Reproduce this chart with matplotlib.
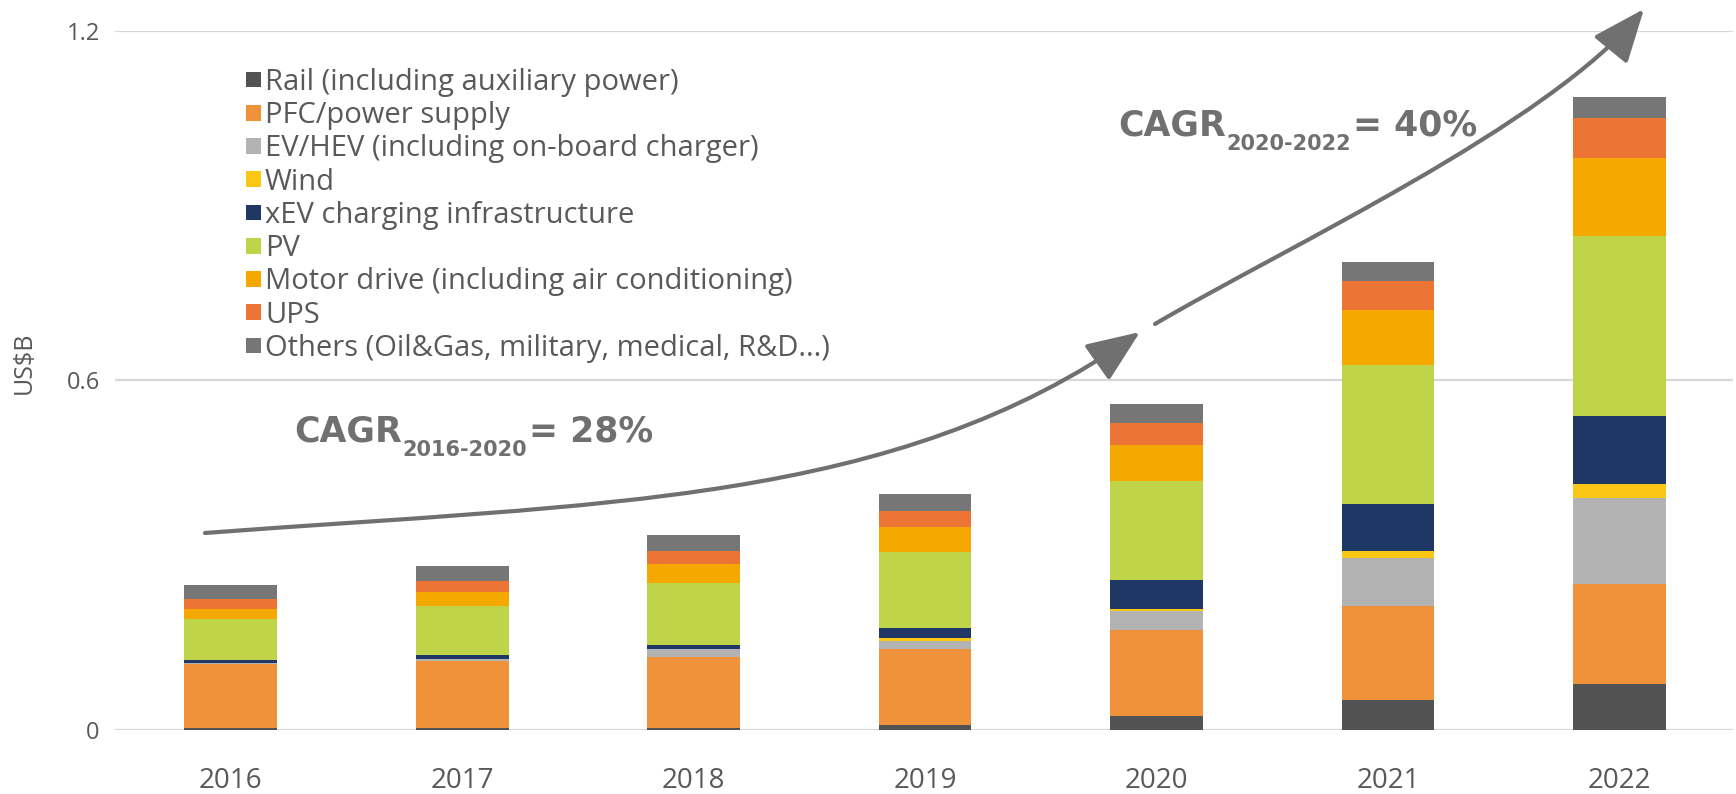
import matplotlib.pyplot as plt
from matplotlib.patches import FancyArrowPatch, Patch
from matplotlib.path import Path
from matplotlib.transforms import Affine2D
import numpy as np

plt.rcParams['font.family'] = ['Open Sans', 'DejaVu Sans']

years = ['2016', '2017', '2018', '2019', '2020', '2021', '2022']

# market size per application, US$B
rail   = [0.003, 0.003, 0.003, 0.008, 0.023, 0.050, 0.078]
pfc    = [0.110, 0.115, 0.122, 0.131, 0.148, 0.163, 0.172]
ev_hev = [0.001, 0.003, 0.013, 0.014, 0.032, 0.082, 0.148]
wind   = [0.001, 0.001, 0.001, 0.004, 0.005, 0.011, 0.024]
xev    = [0.005, 0.006, 0.006, 0.017, 0.049, 0.082, 0.117]
pv     = [0.070, 0.085, 0.107, 0.131, 0.170, 0.239, 0.309]
motor  = [0.018, 0.023, 0.033, 0.043, 0.062, 0.093, 0.133]
ups    = [0.017, 0.020, 0.022, 0.027, 0.038, 0.050, 0.069]
others = [0.023, 0.025, 0.027, 0.030, 0.032, 0.033, 0.037]

labels = ['Rail (including auxiliary power)', 'PFC/power supply',
          'EV/HEV (including on-board charger)', 'Wind',
          'xEV charging infrastructure', 'PV',
          'Motor drive (including air conditioning)', 'UPS',
          'Others (Oil&Gas, military, medical, R&D...)']
series = [rail, pfc, ev_hev, wind, xev, pv, motor, ups, others]
colors = ['#525252', '#F0923A', '#B3B3B3', '#FAC814', '#1E3765',
          '#C0D44A', '#F5A800', '#EC7434', '#767676']

W, H = 1736, 794
TXT = '#595959'
ANN = '#707070'

fig = plt.figure(figsize=(W / 100, H / 100), dpi=100)
ax = fig.add_axes([115 / W, 1 - 729.6 / H, 1618 / W, 698.6 / H])

# pixel coords measured from the top-left corner of the figure
px = Affine2D().scale(1 / W, -1 / H).translate(0, 1) + fig.transFigure

x = np.arange(len(years))
bottom = np.zeros(len(years))
for vals, col in zip(series, colors):
    ax.bar(x, vals, width=0.40, bottom=bottom, color=col, linewidth=0, zorder=2)
    bottom += np.array(vals)

ax.set_xlim(-0.5, 6.49)
ax.set_ylim(0, 1.2)
ax.set_yticks([0, 0.6, 1.2])
ax.set_yticklabels(['0', '0.6', '1.2'])
ax.set_xticks(x)
ax.set_xticklabels(years)
ax.yaxis.grid(True, color='#D9D9D9', linewidth=1.6, zorder=0)
ax.set_axisbelow(True)
for s in ax.spines.values():
    s.set_visible(False)
ax.tick_params(axis='y', length=0, pad=11, labelsize=17, labelcolor=TXT)
ax.tick_params(axis='x', length=0, pad=27, labelsize=20, labelcolor=TXT)

fig.text(24, 363, 'US$B', transform=px, rotation=90, ha='center', va='center',
         fontsize=18, color=TXT)

handles = [Patch(facecolor=c, edgecolor='none') for c in colors]
ax.legend(handles, labels, loc='upper left', bbox_to_anchor=(246, 68),
          bbox_transform=px, frameon=False, fontsize=21, labelcolor=TXT,
          handlelength=0.5, handleheight=0.45, handletextpad=0.15,
          labelspacing=0.145, borderpad=0, borderaxespad=0)


def curve_arrow(p0, p1, p2, p3):
    path = Path([p0, p1, p2, p3], [Path.MOVETO, Path.CURVE4, Path.CURVE4, Path.CURVE4])
    arr = FancyArrowPatch(path=path, transform=px,
                          arrowstyle='-|>,head_length=2.2,head_width=0.9',
                          mutation_scale=15, color=ANN, linewidth=3,
                          shrinkA=0, shrinkB=0, clip_on=False, zorder=5)
    fig.add_artist(arr)


curve_arrow((205, 533), (605, 503), (895, 505), (1140, 332))
curve_arrow((1155, 324), (1284, 248), (1549, 125), (1644, 9))

renderer = fig.canvas.get_renderer()


def cagr_label(x0, base, period, rate):
    t1 = fig.text(x0, base, 'CAGR', transform=px, fontsize=25, fontweight='bold',
                  family='DejaVu Sans', color=ANN, va='baseline')
    x1 = t1.get_window_extent(renderer).x1
    t2 = fig.text(x1 + 1, base + 14, period, transform=px, fontsize=15,
                  fontweight='bold', family='DejaVu Sans', color=ANN, va='baseline')
    x2 = t2.get_window_extent(renderer).x1
    fig.text(x2 + 2, base, '= ' + rate, transform=px, fontsize=25,
             fontweight='bold', family='DejaVu Sans', color=ANN, va='baseline')


cagr_label(294, 442, '2016-2020', '28%')
cagr_label(1118, 136, '2020-2022', '40%')

fig.savefig('out.png', dpi=100)
